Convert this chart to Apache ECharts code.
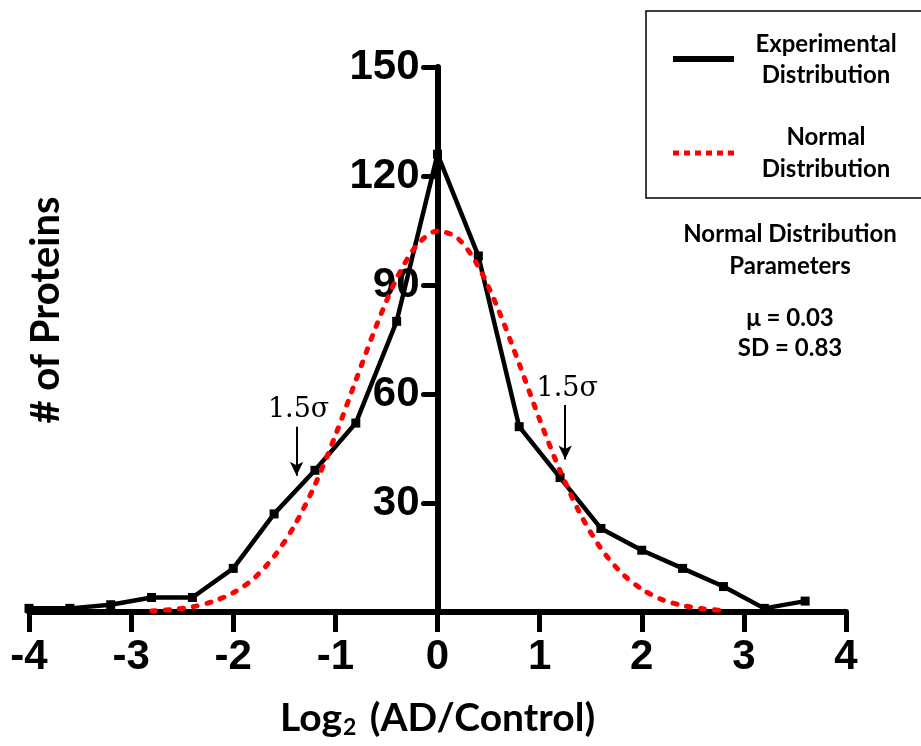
<!DOCTYPE html>
<html>
<head>
<meta charset="utf-8">
<script src="https://cdn.jsdelivr.net/npm/echarts@6/dist/echarts.min.js"></script>
<style>html,body{margin:0;padding:0;background:#fff;}#c{width:921px;height:746px;}</style>
</head>
<body>
<div id="c"></div>
<script>
// ---- data ----
const expX = [-4, -3.6, -3.2, -2.8, -2.4, -2, -1.6, -1.2, -0.8, -0.4, 0, 0.4, 0.8, 1.2, 1.6, 2, 2.4, 2.8, 3.2, 3.6];
const expY = [1, 1, 2, 4, 4, 12, 27, 39, 52, 80, 126, 98, 51, 37, 23, 17, 12, 7, 1, 3];
const normX = [-2.8, -2.6, -2.4, -2.2, -2, -1.8, -1.6, -1.4, -1.2, -1, -0.8, -0.6, -0.4, -0.2, 0, 0.2, 0.4, 0.6, 0.8, 1, 1.2, 1.4, 1.6, 1.8, 2, 2.2, 2.4, 2.6, 2.8];
const normY = [0.3, 0.7, 1.4, 2.9, 5.3, 9.2, 15.3, 23.8, 35.0, 48.6, 63.7, 78.7, 91.8, 101.0, 104.9, 102.8, 95.1, 82.9, 68.3, 53.0, 38.9, 26.9, 17.5, 10.8, 6.3, 3.4, 1.8, 0.9, 0.4];
const xTicks = [-4, 4, 1];
const yTicks = [0, 150, 30];
const sigmaLabel = '1.5σ';
const sigmaArrows = [ // [x, yStart, yEnd]
  [-1.38, 51, 37.5],
  [1.25, 57, 42]
];

const W = 921, H = 746;
const gridLeft = 29, gridRight = 75;
const gridW = W - gridLeft - gridRight;
// y axis sits at x = 0, i.e. middle of the symmetric x range
const yAxisOffset = -gridW * (0 - xTicks[0]) / (xTicks[1] - xTicks[0]);

const chart = echarts.init(document.getElementById('c'), null, {renderer: 'canvas'});
const numFont = '"Liberation Sans Narrow", "Liberation Sans", Arial, sans-serif';
const txtFont = 'Lato, "Open Sans", sans-serif';

chart.setOption({
  animation: false,
  grid: {left: gridLeft, right: gridRight, top: 67, bottom: 134, containLabel: false, outerBoundsMode: 'none'},
  xAxis: {
    type: 'value', min: xTicks[0], max: xTicks[1], interval: xTicks[2],
    axisLine: {onZero: true, lineStyle: {color: '#000', width: 6}},
    axisTick: {show: true, length: 20, lineStyle: {color: '#000', width: 5}},
    axisLabel: {color: '#000', fontSize: 42, fontWeight: 'bold', fontFamily: numFont, margin: 24},
    splitLine: {show: false},
    name: '{a|Log}{b|2}{a| (AD/Control)}',
    nameLocation: 'middle', nameGap: 84,
    nameTextStyle: {
      rich: {
        a: {fontSize: 39, fontWeight: 'bold', fontFamily: txtFont, color: '#000', lineHeight: 44},
        b: {fontSize: 23, fontWeight: 'bold', fontFamily: txtFont, color: '#000', padding: [20, 4, 0, 1]}
      }
    }
  },
  yAxis: {
    type: 'value', min: yTicks[0], max: yTicks[1], interval: yTicks[2],
    position: 'left', offset: yAxisOffset,
    axisLine: {onZero: false, lineStyle: {color: '#000', width: 6}},
    axisTick: {show: true, length: 14, lineStyle: {color: '#000', width: 5, cap: 'round'}},
    axisLabel: {color: '#000', fontSize: 42, fontWeight: 'bold', fontFamily: numFont, margin: 18, showMinLabel: false},
    splitLine: {show: false}
  },
  series: [
    {
      name: 'Experimental Distribution', type: 'line', z: 3,
      data: expX.map((x, i) => [x, expY[i]]),
      symbol: 'rect', symbolSize: 9, clip: false,
      itemStyle: {color: '#000'},
      lineStyle: {color: '#000', width: 4.5},
      markLine: {
        silent: true, symbol: ['none', 'arrow'], symbolSize: [10, 14],
        label: {show: false},
        lineStyle: {color: '#000', width: 2, type: 'solid'},
        data: sigmaArrows.map(a => [{coord: [a[0], a[1]]}, {coord: [a[0], a[2]]}])
      },
      markPoint: {
        silent: true, symbol: 'circle', symbolSize: 0,
        label: {show: true, formatter: sigmaLabel, color: '#000', fontSize: 27, fontFamily: '"DejaVu Serif", "Liberation Serif", serif', position: 'inside'},
        data: sigmaArrows.map(a => ({coord: [a[0] + 0.02, a[1] + 4.5]}))
      }
    },
    {
      name: 'Normal Distribution', type: 'line', z: 4,
      data: normX.map((x, i) => [x, normY[i]]),
      smooth: 0.3, showSymbol: false, symbol: 'none',
      lineStyle: {color: '#ff0000', width: 5, type: [4, 10], cap: 'round'}
    }
  ],
  graphic: [
    {type: 'text', x: 46, y: 310, rotation: Math.PI / 2,
     style: {text: '# of Proteins', fill: '#000', font: 'bold 40px ' + txtFont, align: 'center', verticalAlign: 'middle'}},
    {type: 'rect', shape: {x: 646, y: 11, width: 290, height: 187}, style: {fill: 'none', stroke: '#000', lineWidth: 1.5}},
    {type: 'line', shape: {x1: 673, y1: 59, x2: 734, y2: 59}, style: {stroke: '#000', lineWidth: 6}},
    {type: 'line', shape: {x1: 673, y1: 153, x2: 734, y2: 153}, style: {stroke: '#ff0000', lineWidth: 5, lineDash: [6, 5]}},
    {type: 'text', x: 826, y: 44, style: {text: 'Experimental', fill: '#000', font: 'bold 24px ' + txtFont, align: 'center', verticalAlign: 'middle'}},
    {type: 'text', x: 826, y: 75, style: {text: 'Distribution', fill: '#000', font: 'bold 24px ' + txtFont, align: 'center', verticalAlign: 'middle'}},
    {type: 'text', x: 826, y: 137, style: {text: 'Normal', fill: '#000', font: 'bold 24px ' + txtFont, align: 'center', verticalAlign: 'middle'}},
    {type: 'text', x: 826, y: 169, style: {text: 'Distribution', fill: '#000', font: 'bold 24px ' + txtFont, align: 'center', verticalAlign: 'middle'}},
    {type: 'text', x: 790, y: 234, style: {text: 'Normal Distribution', fill: '#000', font: 'bold 24px ' + txtFont, align: 'center', verticalAlign: 'middle'}},
    {type: 'text', x: 790, y: 266, style: {text: 'Parameters', fill: '#000', font: 'bold 24px ' + txtFont, align: 'center', verticalAlign: 'middle'}},
    {type: 'text', x: 790, y: 318, style: {text: 'μ = 0.03', fill: '#000', font: 'bold 24px ' + txtFont, align: 'center', verticalAlign: 'middle'}},
    {type: 'text', x: 790, y: 348, style: {text: 'SD = 0.83', fill: '#000', font: 'bold 24px ' + txtFont, align: 'center', verticalAlign: 'middle'}}
  ]
});
</script>
</body>
</html>
